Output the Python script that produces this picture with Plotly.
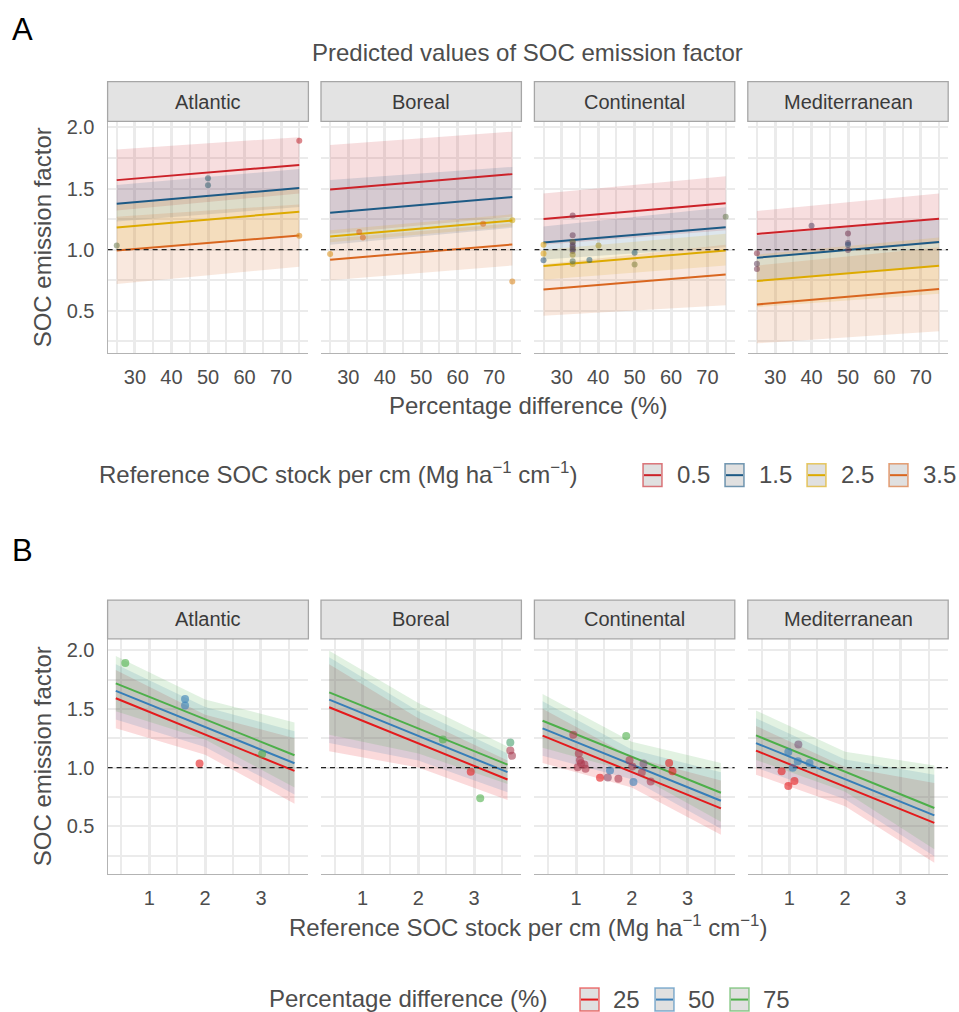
import plotly.graph_objects as go

W, H = 959, 1012
FONT = "Liberation Sans, Arial, sans-serif"


def fx(px):
    return px / W


def fy(py):
    return 1 - py / H


REGIONS = ["Atlantic", "Boreal", "Continental", "Mediterranean"]

# ---------------- Panel A: x = percentage difference, groups = reference SOC stock
A_X = [25, 75]
A_GROUPS = ["0.5", "1.5", "2.5", "3.5"]
A_REF_VALUES = [0.5, 1.5, 2.5, 3.5]
A_COLORS = ["#CC2229", "#1D5A85", "#DDAA00", "#D9661F"]
A_LINE = {
    "Atlantic": [[1.569, 1.693], [1.376, 1.504], [1.181, 1.311], [0.994, 1.116]],
    "Boreal": [[1.493, 1.618], [1.303, 1.430], [1.107, 1.238], [0.918, 1.043]],
    "Continental": [[1.251, 1.379], [1.059, 1.184], [0.866, 0.994], [0.674, 0.798]],
    "Mediterranean": [[1.129, 1.254], [0.934, 1.062], [0.744, 0.869], [0.552, 0.679]],
}
A_LO = {
    "Atlantic": [[1.32, 1.46], [1.23, 1.35], [0.99, 1.12], [0.72, 0.86]],
    "Boreal": [[1.13, 1.27], [1.04, 1.18], [1.06, 1.19], [0.75, 0.871]],
    "Continental": [[1.04, 1.16], [0.92, 1.02], [0.755, 0.87], [0.46, 0.546]],
    "Mediterranean": [[0.94, 1.05], [0.75, 0.87], [0.53, 0.64], [0.234, 0.334]],
}
A_HI = {
    "Atlantic": [[1.82, 1.92], [1.53, 1.66], [1.37, 1.50], [1.27, 1.37]],
    "Boreal": [[1.856, 1.965], [1.569, 1.677], [1.16, 1.29], [1.09, 1.215]],
    "Continental": [[1.46, 1.601], [1.19, 1.347], [1.0, 1.13], [0.88, 1.04]],
    "Mediterranean": [[1.317, 1.46], [1.116, 1.25], [0.96, 1.1], [0.87, 1.02]],
}

# ---------------- Panel B: x = reference SOC stock, groups = percentage difference
B_X = [0.4, 3.6]
B_BAND_X = [0.4, 2.0, 3.6]
B_GROUPS = ["25", "50", "75"]
B_PCT_VALUES = [25, 50, 75]
B_COLORS = ["#E41A1C", "#377EB8", "#4DAF4A"]
B_LINE = {
    "Atlantic": [[1.590, 0.972], [1.653, 1.037], [1.717, 1.105]],
    "Boreal": [[1.514, 0.899], [1.579, 0.961], [1.641, 1.026]],
    "Continental": [[1.272, 0.653], [1.334, 0.718], [1.399, 0.786]],
    "Mediterranean": [[1.145, 0.529], [1.209, 0.594], [1.274, 0.656]],
}
B_LO = {
    "Atlantic": [[1.334, 1.11, 0.693], [1.41, 1.175, 0.77], [1.48, 1.24, 0.83]],
    "Boreal": [[1.14, 1.0, 0.724], [1.21, 1.06, 0.79], [1.28, 1.12, 0.86]],
    "Continental": [[1.04, 0.83, 0.428], [1.10, 0.90, 0.48], [1.17, 0.96, 0.54]],
    "Mediterranean": [[0.94, 0.67, 0.19], [1.0, 0.73, 0.245], [1.065, 0.795, 0.305]],
}
B_HI = {
    "Atlantic": [[1.83, 1.45, 1.25], [1.88, 1.515, 1.31], [1.95, 1.58, 1.385]],
    "Boreal": [[1.88, 1.42, 1.06], [1.94, 1.48, 1.12], [1.994, 1.55, 1.18]],
    "Continental": [[1.50, 1.09, 0.89], [1.565, 1.155, 0.96], [1.627, 1.22, 1.04]],
    "Mediterranean": [[1.355, 1.005, 0.87], [1.42, 1.07, 0.94], [1.486, 1.135, 1.018]],
}

# ---------------- Observations (shared by both panels)
OBS_PCT = {
    "Atlantic": [25, 50, 50, 75, 75],
    "Boreal": [25, 33, 34, 67, 75, 75],
    "Continental": [25, 25, 25, 33, 33, 33, 33, 33, 33, 33, 33, 33, 33, 33, 33, 37.6, 40.1, 50, 50, 75],
    "Mediterranean": [25, 25, 25, 40, 50, 50, 50, 50],
}
OBS_REF = {
    "Atlantic": [1.90, 1.64, 1.64, 0.57, 3.02],
    "Boreal": [2.94, 3.65, 3.68, 3.65, 2.44, 3.11],
    "Continental": [2.67, 2.73, 1.43, 0.95, 1.05, 1.07, 1.96, 1.09, 1.03, 2.01, 1.15, 1.17, 2.18, 2.34, 1.76,
                    1.57, 2.21, 1.61, 2.03, 1.90],
    "Mediterranean": [0.86, 0.98, 1.09, 1.16, 0.98, 1.15, 1.06, 1.36],
}
OBS_EF = {
    "Atlantic": [1.035, 1.585, 1.528, 1.890, 1.115],
    "Boreal": [0.965, 1.145, 1.100, 1.213, 1.240, 0.740],
    "Continental": [1.040, 0.968, 0.913, 1.280, 1.119, 1.062, 1.063, 1.038, 1.004, 1.010, 1.026, 0.990, 0.958,
                    0.882, 0.905, 0.915, 1.035, 0.975, 0.878, 1.270],
    "Mediterranean": [0.970, 0.843, 0.885, 1.196, 1.133, 1.054, 0.998, 1.040],
}

A_XTICKS = [30, 40, 50, 60, 70]
A_XMINOR = [25, 35, 45, 55, 65, 75]
B_XTICKS = [1, 2, 3]
B_XMINOR = [0.5, 1.5, 2.5, 3.5]
Y_TICKS = [0.5, 1.0, 1.5, 2.0]
Y_TICKTEXT = ["0.5", "1.0", "1.5", "2.0"]
Y_MINOR = [0.25, 0.75, 1.25, 1.75]

# ---------------- geometry (pixels)
COL_X = [(107.6, 308.4), (321.0, 521.4), (534.4, 734.8), (747.8, 948.2)]
ROW_Y = [(117, 350), (637, 873)]
STRIP_Y = [(77, 117), (598, 637)]
X_RANGE = [[22.5, 77.5], [0.253, 3.849]]
Y_RANGE = [[0.153, 2.049], [0.097, 2.096]]

GRID = "#EBEBEB"
TXT = "#4D4D4D"


def hex_rgb(h):
    h = h.lstrip("#")
    return [int(h[i:i + 2], 16) for i in (0, 2, 4)]


def rgba(h, a):
    r, g, b = hex_rgb(h)
    return f"rgba({r},{g},{b},{a})"


def grad(v, stops, colors, a):
    if v <= stops[0]:
        return rgba(colors[0], a)
    if v >= stops[-1]:
        return rgba(colors[-1], a)
    for i in range(len(stops) - 1):
        if stops[i] <= v <= stops[i + 1]:
            t = (v - stops[i]) / (stops[i + 1] - stops[i])
            c0, c1 = hex_rgb(colors[i]), hex_rgb(colors[i + 1])
            c = [round(c0[k] + t * (c1[k] - c0[k])) for k in range(3)]
            return f"rgba({c[0]},{c[1]},{c[2]},{a})"


fig = go.Figure()
layout = dict(
    width=W, height=H, margin=dict(l=0, r=0, t=0, b=0),
    paper_bgcolor="white", plot_bgcolor="white", showlegend=False,
    font=dict(family=FONT, color=TXT),
)
shapes, annotations = [], []

for row in range(2):
    for col, reg in enumerate(REGIONS):
        i = row * 4 + col + 1
        xa, ya = f"x{i}", f"y{i}"
        x0, x1 = COL_X[col]
        ytop, ybot = ROW_Y[row]
        layout[f"xaxis{i}"] = dict(
            domain=[fx(x0), fx(x1)], anchor=ya, range=X_RANGE[row],
            tickvals=A_XTICKS if row == 0 else B_XTICKS,
            showgrid=True, gridcolor=GRID, gridwidth=2.6, zeroline=False,
            showline=True, linecolor="#B3B3B3", linewidth=1.3,
            ticks="outside", ticklen=6, tickcolor="rgba(0,0,0,0)",
            tickfont=dict(size=20, color=TXT, family=FONT),
            minor=dict(tickvals=A_XMINOR if row == 0 else B_XMINOR, showgrid=True,
                       gridcolor=GRID, gridwidth=2.2),
        )
        layout[f"yaxis{i}"] = dict(
            domain=[fy(ybot), fy(ytop)], anchor=xa, range=Y_RANGE[row],
            tickvals=Y_TICKS, ticktext=Y_TICKTEXT, showticklabels=(col == 0),
            showgrid=True, gridcolor=GRID, gridwidth=2.2, zeroline=False,
            showline=(col == 0), linecolor="#B3B3B3", linewidth=1.3,
            ticks="outside" if col == 0 else "", ticklen=8, tickcolor="rgba(0,0,0,0)",
            tickfont=dict(size=20, color=TXT, family=FONT),
            minor=dict(tickvals=Y_MINOR, showgrid=True, gridcolor=GRID, gridwidth=1.6),
        )
        # strip
        sy0, sy1 = STRIP_Y[row]
        shapes.append(dict(type="rect", xref="paper", yref="paper",
                           x0=fx(x0), x1=fx(x1), y0=fy(sy1), y1=fy(sy0),
                           fillcolor="#E3E3E3", line=dict(color="#A6A6A6", width=1.3)))
        annotations.append(dict(text=reg, xref="paper", yref="paper",
                                x=fx((x0 + x1) / 2), y=fy((sy0 + sy1) / 2),
                                showarrow=False, xanchor="center", yanchor="middle",
                                font=dict(size=20, color="#3A3A3A", family=FONT)))

        if row == 0:
            for g in range(4):
                lo, hi = A_LO[reg][g], A_HI[reg][g]
                fig.add_trace(go.Scatter(
                    x=[A_X[0], A_X[1], A_X[1], A_X[0]], y=[lo[0], lo[1], hi[1], hi[0]],
                    fill="toself", fillcolor=rgba(A_COLORS[g], 0.15), line=dict(width=0),
                    mode="lines", xaxis=xa, yaxis=ya, hoverinfo="skip"))
            for g in range(4):
                fig.add_trace(go.Scatter(
                    x=A_X, y=A_LINE[reg][g], mode="lines",
                    line=dict(color=A_COLORS[g], width=2), xaxis=xa, yaxis=ya))
            fig.add_trace(go.Scatter(x=X_RANGE[0], y=[1, 1], mode="lines",
                                     line=dict(color="#222222", width=1.3, dash="5px,4px"),
                                     xaxis=xa, yaxis=ya))
            fig.add_trace(go.Scatter(
                x=OBS_PCT[reg], y=OBS_EF[reg], mode="markers", xaxis=xa, yaxis=ya,
                marker=dict(size=6, color=[grad(v, A_REF_VALUES, A_COLORS, 0.55) for v in OBS_REF[reg]],
                            line=dict(width=0))))
        else:
            for g in range(3):
                lo, hi = B_LO[reg][g], B_HI[reg][g]
                fig.add_trace(go.Scatter(
                    x=B_BAND_X + B_BAND_X[::-1], y=lo + hi[::-1],
                    fill="toself", fillcolor=rgba(B_COLORS[g], 0.16), line=dict(width=0),
                    mode="lines", xaxis=xa, yaxis=ya, hoverinfo="skip"))
            for g in range(3):
                fig.add_trace(go.Scatter(
                    x=B_X, y=B_LINE[reg][g], mode="lines",
                    line=dict(color=B_COLORS[g], width=2), xaxis=xa, yaxis=ya))
            fig.add_trace(go.Scatter(x=X_RANGE[1], y=[1, 1], mode="lines",
                                     line=dict(color="#222222", width=1.3, dash="5px,4px"),
                                     xaxis=xa, yaxis=ya))
            fig.add_trace(go.Scatter(
                x=OBS_REF[reg], y=OBS_EF[reg], mode="markers", xaxis=xa, yaxis=ya,
                marker=dict(size=8, color=[grad(v, B_PCT_VALUES, B_COLORS, 0.6) for v in OBS_PCT[reg]],
                            line=dict(width=0))))


def text(t, px, py, size, color=TXT, xanchor="center", angle=0):
    annotations.append(dict(text=t, xref="paper", yref="paper", x=fx(px), y=fy(py),
                            showarrow=False, xanchor=xanchor, yanchor="middle", textangle=angle,
                            font=dict(size=size, color=color, family=FONT)))


CX = (COL_X[0][0] + COL_X[3][1]) / 2
text("A", 10, 25, 31, color="black", xanchor="left")
text("B", 10, 548, 31, color="black", xanchor="left")
text("Predicted values of SOC emission factor", CX, 48, 24)
text("SOC emission factor", 42, sum(ROW_Y[0]) / 2, 24, angle=-90)
text("SOC emission factor", 42, sum(ROW_Y[1]) / 2, 24, angle=-90)
text("Percentage difference (%)", CX, 402, 24)
text("Reference SOC stock per cm (Mg ha<sup>−1</sup> cm<sup>−1</sup>)", CX, 926, 24)

# legends
LEG_A_KEYS = [643, 725, 807, 889]
text("Reference SOC stock per cm (Mg ha<sup>−1</sup> cm<sup>−1</sup>)", 97, 470, 24, xanchor="left")
for k, lab in enumerate(A_GROUPS):
    kx = LEG_A_KEYS[k]
    shapes.append(dict(type="rect", xref="paper", yref="paper", x0=fx(kx), x1=fx(kx + 19),
                       y0=fy(484), y1=fy(461), fillcolor="#E0E0E0",
                       line=dict(color=rgba(A_COLORS[k], 0.6), width=1.5)))
    shapes.append(dict(type="line", xref="paper", yref="paper", x0=fx(kx + 1), x1=fx(kx + 18),
                       y0=fy(472.5), y1=fy(472.5), line=dict(color=A_COLORS[k], width=2)))
    text(lab, kx + 32, 472, 24, xanchor="left")

LEG_B_KEYS = [580, 655, 730]
text("Percentage difference (%)", 267, 998, 24, xanchor="left")
for k, lab in enumerate(B_GROUPS):
    kx = LEG_B_KEYS[k]
    shapes.append(dict(type="rect", xref="paper", yref="paper", x0=fx(kx), x1=fx(kx + 19),
                       y0=fy(1011), y1=fy(988), fillcolor="#E0E0E0",
                       line=dict(color=rgba(B_COLORS[k], 0.6), width=1.5)))
    shapes.append(dict(type="line", xref="paper", yref="paper", x0=fx(kx + 1), x1=fx(kx + 18),
                       y0=fy(999.5), y1=fy(999.5), line=dict(color=B_COLORS[k], width=2)))
    text(lab, kx + 31, 999, 24, xanchor="left")

layout["shapes"] = shapes
layout["annotations"] = annotations
fig.update_layout(**layout)
fig.write_html(
    "out.html",
    config={"displayModeBar": False},
    post_script="document.body.style.margin='0';document.body.style.padding='0';"
                "document.documentElement.style.overflow='hidden';",
)
